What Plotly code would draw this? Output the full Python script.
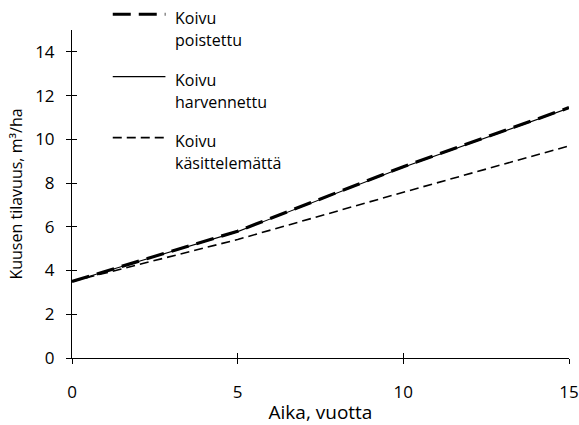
import plotly.graph_objects as go

# Spruce volume development under three birch treatments
years = [0, 5, 10, 15]
koivu_poistettu = [3.5, 5.8, 8.75, 11.45]
koivu_harvennettu = [3.5, 5.78, 8.72, 11.43]
koivu_kasittelematta = [3.5, 5.42, 7.58, 9.7]

x_ticks = [0, 5, 10, 15]
y_ticks = [0, 2, 4, 6, 8, 10, 12, 14]

FONT = "Open Sans, Liberation Sans, sans-serif"

series = [
    ("Koivu", "poistettu", koivu_poistettu, dict(color="black", width=3.2, dash="18px,8px")),
    ("Koivu", "harvennettu", koivu_harvennettu, dict(color="black", width=1.1)),
    ("Koivu", "käsittelemättä", koivu_kasittelematta, dict(color="black", width=1.6, dash="9px,5px")),
]

fig = go.Figure()
# draw the thin solid line first so the heavy dashes sit on top
for idx in (1, 2, 0):
    l1, l2, vals, line = series[idx]
    fig.add_trace(go.Scatter(x=years, y=vals, mode="lines", line=line,
                             name=f"{l1} {l2}", showlegend=False))

# Hand-built legend: sample line to the left, two-line label to the right
legend_rows = [1.048, 0.858, 0.672]  # paper y of each sample line
for (l1, l2, _, line), ly in zip(series, legend_rows):
    fig.add_shape(type="line", xref="paper", yref="paper",
                  x0=0.082, x1=0.188, y0=ly, y1=ly,
                  line=line)
    fig.add_annotation(xref="paper", yref="paper", x=0.204, y=ly - 0.01,
                       text=l1, showarrow=False, xanchor="left", yanchor="middle",
                       font=dict(family=FONT, size=16, color="black"))
    fig.add_annotation(xref="paper", yref="paper", x=0.204, y=ly - 0.077,
                       text=l2, showarrow=False, xanchor="left", yanchor="middle",
                       font=dict(family=FONT, size=16, color="black"))

tick_font = dict(family=FONT, size=17, color="black")

fig.update_layout(
    width=579, height=425,
    margin=dict(l=72, r=10, t=30, b=67, autoexpand=False),
    paper_bgcolor="white", plot_bgcolor="white",
    showlegend=False,
    font=dict(family=FONT, size=16, color="black"),
    xaxis=dict(
        range=[0, 15], tickvals=x_ticks, ticks="outside", ticklen=5,
        tickwidth=1, tickcolor="black", showline=True, linecolor="black",
        linewidth=1, showgrid=False, zeroline=False, tickfont=tick_font,
        ticklabelstandoff=14, automargin=False,
        title=dict(text="Aika, vuotta",
                   font=dict(family=FONT, size=19, color="black"), standoff=8),
    ),
    yaxis=dict(
        range=[0, 15], tickvals=y_ticks, ticks="outside", ticklen=5,
        tickwidth=1, tickcolor="black", showline=True, linecolor="black",
        linewidth=1, showgrid=False, zeroline=False, tickfont=tick_font,
        ticklabelstandoff=8, automargin=False,
        title=dict(text="Kuusen tilavuus, m³/ha",
                   font=dict(family=FONT, size=16, color="black"), standoff=8),
    ),
    # twin axes supply the inner half of the crossing tick marks
    xaxis2=dict(overlaying="x", range=[0, 15], tickvals=x_ticks, ticks="inside",
                ticklen=5, tickcolor="black", showticklabels=False,
                showgrid=False, zeroline=False, showline=False, side="bottom"),
    yaxis2=dict(overlaying="y", range=[0, 15], tickvals=y_ticks, ticks="inside",
                ticklen=5, tickcolor="black", showticklabels=False,
                showgrid=False, zeroline=False, showline=False, side="left"),
)
# invisible trace to bring the twin axes to life
fig.add_trace(go.Scatter(x=[None], y=[None], xaxis="x2", yaxis="y2",
                         mode="lines", showlegend=False, hoverinfo="skip"))

fig.write_html("out.html")
